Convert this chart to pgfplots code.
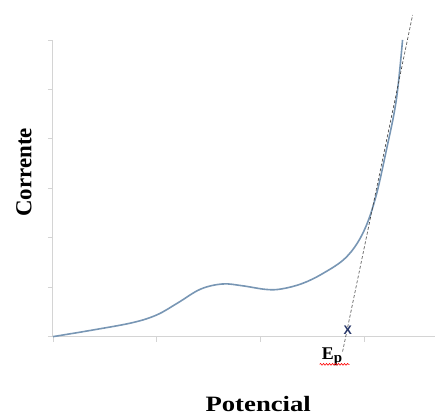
\documentclass[border=0pt]{standalone}
\usepackage{pgfplots}
\pgfplotsset{compat=1.18}
\usepackage{fontspec}
\setmainfont{Liberation Serif}
\setsansfont{Liberation Sans}
\usetikzlibrary{decorations.pathmorphing}
\definecolor{axgray}{RGB}{212,212,212}
\definecolor{curveblue}{RGB}{120,150,180}
\definecolor{xmark}{RGB}{40,55,105}
\begin{document}
\begin{tikzpicture}
\begin{axis}[
  scale only axis,
  width=382bp, height=297bp,
  xmin=0, xmax=3.673, ymin=0, ymax=6,
  axis x line=bottom, axis y line=left,
  axis line style={-, draw=axgray, line width=0.9bp},
  xtick={0,1,2,3}, ytick={0,1,2,3,4,5,6},
  xticklabels={}, yticklabels={},
  tick align=outside,
  major tick length=5bp,
  tick style={draw=axgray, line width=0.8bp},
  clip=false,
]
\addplot[curveblue, line width=1.6bp, smooth, tension=0.6] coordinates {
(0,0) (0.4,0.14) (0.77,0.285) (1.0,0.44) (1.2,0.68) (1.42,0.96)
(1.63,1.065) (1.82,1.03) (2.05,0.955) (2.2,0.965) (2.4,1.075)
(2.6,1.28) (2.82,1.6) (2.98,2.08) (3.1,2.77) (3.21,3.78) (3.305,4.79) (3.365,6.0)
};
\addplot[black!75, line width=0.6bp, densely dashed] coordinates {
(2.788,-0.303) (3.462,6.505)
};
\node[font=\sffamily\bfseries\fontsize{12.5}{12.5}\selectfont, text=xmark, inner sep=0pt] at (axis cs:2.837,0.135) {X};
\node[anchor=base west, inner sep=0pt, font=\bfseries] at (axis cs:2.587,-0.47) {{\fontsize{18}{18}\selectfont E}\raisebox{-3bp}{\fontsize{15}{15}\selectfont p}};
\draw[red, line width=0.6bp, decorate, decoration={snake, amplitude=0.9bp, segment length=3bp}] (axis cs:2.567,-0.56) -- (axis cs:2.856,-0.56);
\node[anchor=base, inner sep=0pt, font=\bfseries\fontsize{22}{22}\selectfont] at (axis cs:1.976,-1.515) {\scalebox{1.22}[1]{Potencial}};
\node[anchor=base, rotate=90, inner sep=0pt, font=\bfseries\fontsize{23}{23}\selectfont] at (axis cs:-0.207,3.323) {Corrente};
\path (axis cs:-0.5096,-1.616) rectangle (axis cs:3.673,6.808);
\end{axis}
\end{tikzpicture}
\end{document}
